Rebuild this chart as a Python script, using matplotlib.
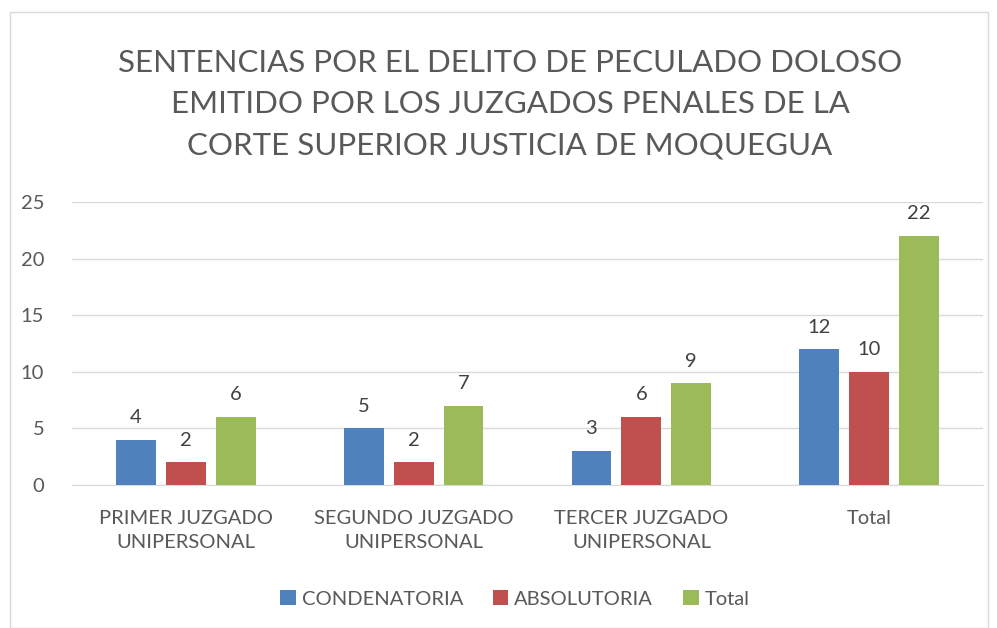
import numpy as np
import matplotlib.pyplot as plt
from matplotlib.patches import Rectangle

# data
categories = ['PRIMER JUZGADO\nUNIPERSONAL', 'SEGUNDO JUZGADO\nUNIPERSONAL',
              'TERCER JUZGADO\nUNIPERSONAL', 'Total']
condenatoria = [4, 5, 3, 12]
absolutoria = [2, 2, 6, 10]
total = [6, 7, 9, 22]
series_names = ['CONDENATORIA', 'ABSOLUTORIA', 'Total']
colors = ['#4F81BD', '#C0504D', '#9BBB59']

plt.rcParams['font.family'] = ['Lato', 'DejaVu Sans']
txt = '#595959'

fig = plt.figure(figsize=(9.97, 6.28), dpi=100)
fig.patches.append(Rectangle((10/997, 0), 978/997, 1 - 12/628, transform=fig.transFigure,
                             fill=False, edgecolor='#D9D9D9', linewidth=1))

ax = fig.add_axes([72/997, 143/628, 911/997, 283/628])
x = np.arange(len(categories))
w = 0.175
gap = 0.044
offs = [-(w + gap), 0, w + gap]
for vals, name, c, o in zip([condenatoria, absolutoria, total], series_names, colors, offs):
    bars = ax.bar(x + o, vals, w, color=c, label=name, zorder=3)
    for b, v in zip(bars, vals):
        ax.text(b.get_x() + b.get_width()/2, v + 1.2, str(v), ha='center', va='bottom',
                fontsize=14.5, color='#404040')

ax.set_xlim(-0.5, 3.5)
ax.set_ylim(0, 25)
ax.set_yticks(range(0, 26, 5))
ax.yaxis.grid(True, color='#D9D9D9', linewidth=1, zorder=0)
for s in ['top', 'right', 'left']:
    ax.spines[s].set_visible(False)
ax.spines['bottom'].set_color('#D9D9D9')
ax.tick_params(axis='both', length=0, labelsize=14.5, labelcolor=txt)
ax.tick_params(axis='y', pad=20)
ax.tick_params(axis='x', pad=18)
ax.set_xticks(x)
ax.set_xticklabels(categories, linespacing=1.5)

fig.text(510/997, 1 - 104/628, 'SENTENCIAS POR EL DELITO DE PECULADO DOLOSO\n'
         'EMITIDO POR LOS JUZGADOS PENALES DE LA\nCORTE SUPERIOR JUSTICIA DE MOQUEGUA',
         ha='center', va='center', fontsize=22.5, color=txt, linespacing=1.57)

leg = fig.legend(loc='center', bbox_to_anchor=(515/997, 1 - 599/628), ncol=3, frameon=False,
                 fontsize=14.5, handlelength=0.75, handleheight=0.75, handletextpad=0.3,
                 columnspacing=1.5)
for t in leg.get_texts():
    t.set_color(txt)

fig.savefig('out.png', dpi=100)
